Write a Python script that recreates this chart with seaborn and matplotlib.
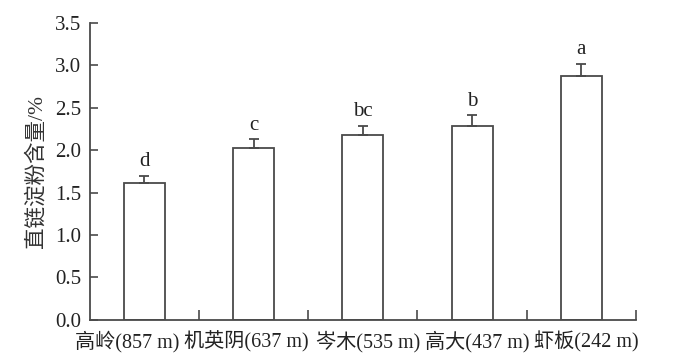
import matplotlib
matplotlib.use("Agg")
import matplotlib.pyplot as plt
import numpy as np
import pandas as pd
import seaborn as sns

sites = ["高岭(857 m)", "机英阴(637 m)", "岑木(535 m)", "高大(437 m)", "虾板(242 m)"]
amylose = [1.61, 2.03, 2.18, 2.29, 2.88]
err = [0.09, 0.10, 0.11, 0.12, 0.14]
letters = ["d", "c", "bc", "b", "a"]

sns.set_style("ticks")
plt.rcParams["font.family"] = ["Liberation Serif", "Noto Sans CJK SC"]
plt.rcParams["xtick.direction"] = "in"
plt.rcParams["ytick.direction"] = "in"
line_col = "#4a4a4a"
text_col = "#222222"

df = pd.DataFrame({"site": sites, "value": amylose})

fig = plt.figure(figsize=(6.86, 3.59), dpi=100)
ax = fig.add_axes([0.131, 0.109, 0.796, 0.827])

sns.barplot(data=df, x="site", y="value", ax=ax, color="white",
            edgecolor=line_col, linewidth=1.3, width=0.375, errorbar=None)
ax.errorbar(np.arange(len(sites)), amylose, yerr=[np.zeros(len(err)), err],
            fmt="none", ecolor=line_col, elinewidth=1.3, capsize=3.3, capthick=1.3)

for i, (v, e, t) in enumerate(zip(amylose, err, letters)):
    ax.text(i, v + e + 0.05, t, ha="center", va="bottom", fontsize=15, color=text_col)

ax.set_ylim(0, 3.5)
ax.set_xlim(-0.5, len(sites) - 0.5)
ax.set_yticks(np.arange(0, 3.51, 0.5))
ax.set_yticklabels([f"{t:.1f}" for t in np.arange(0, 3.51, 0.5)], fontsize=15, color=text_col)
# ticks at category boundaries on the x axis
ax.set_xticks(np.arange(0.5, len(sites) - 0.4, 1.0))
ax.set_xticklabels([])
# labels set as one packed line, like the original figure
label_shift = [-0.16, -0.07, 0.05, 0.05, 0.05]
ax.set_xticks(np.arange(len(sites)) + np.array(label_shift), minor=True)
ax.set_xticklabels(sites, minor=True, fontsize=14.5, color=text_col)
ax.tick_params(axis="x", which="minor", length=0, pad=8)
ax.xaxis.set_tick_params(which="major", direction="in", length=7, width=1.2, color=line_col)
ax.tick_params(axis="y", direction="in", length=6, width=1.2, color=line_col, pad=6)

ax.set_xlabel("")
ax.set_ylabel("直链淀粉含量/%", fontsize=15.5, color="#333333", labelpad=6)

for s in ["top", "right"]:
    ax.spines[s].set_visible(False)
for s in ["left", "bottom"]:
    ax.spines[s].set_color(line_col)
    ax.spines[s].set_linewidth(1.3)

fig.savefig("out.png", dpi=100)
